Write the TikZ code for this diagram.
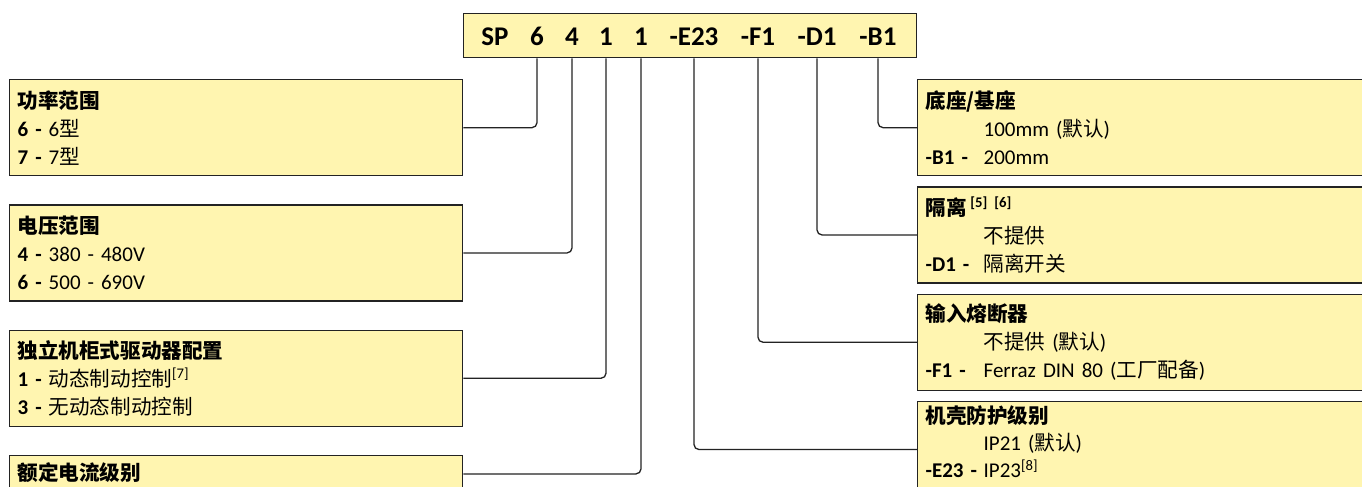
\documentclass[tikz,border=0pt]{standalone}
\usepackage{fontspec}
\setmainfont{Carlito}
\newfontfamily\cjk[Scale=0.98]{Noto Sans CJK SC}
\usetikzlibrary{positioning}
\definecolor{boxfill}{RGB}{255,245,176}
\definecolor{boxline}{RGB}{35,35,35}

\begin{document}
\begin{tikzpicture}[x=1pt,y=-1pt,
	opt/.style={draw=boxline,line width=1.3pt,fill=boxfill,anchor=north west,minimum height=96pt,inner xsep=8pt,inner ysep=0pt,align=left,font=\fontsize{21}{28}\selectfont},
	lopt/.style={opt,minimum width=453pt,text width=437pt},
	ropt/.style={opt,minimum width=460pt,text width=444pt},
	code/.style={font=\fontsize{27}{27}\selectfont\bfseries,inner sep=0pt,anchor=base},
	link/.style={line width=1.3pt,draw=boxline,rounded corners=5pt}]
	\useasboundingbox (0,0) rectangle (1362,487);
	\clip (0,0) rectangle (1362,487);

	\node[draw=boxline,line width=1.3pt,fill=boxfill,minimum width=453pt,minimum height=44pt,anchor=north west,inner sep=0pt] (top) at (463,13) {};
	\node[code] (sp)  at (495,46) {SP};
	\node[code] (c6)  at (537,46) {6};
	\node[code] (c4)  at (572,46) {4};
	\node[code] (c1a) at (606,46) {1};
	\node[code] (c1b) at (641,46) {1};
	\node[code] (cE)  at (694,46) {-E23};
	\node[code] (cF)  at (758,46) {-F1};
	\node[code] (cD)  at (817,46) {-D1};
	\node[code] (cB)  at (878,46) {-B1};

	% left side
	\node[lopt] (pwr) at (9,79) {{\bfseries\cjk 功率范围}\\ \textbf{6 -} 6{\cjk 型}\\ \textbf{7 -} 7{\cjk 型}};
	\node[lopt] (vlt) [below = 28pt of pwr] {{\bfseries\cjk 电压范围}\\ \textbf{4 -} 380 - 480V\\ \textbf{6 -} 500 - 690V};
	\node[lopt] (cfg) [below = 28pt of vlt] {{\bfseries\cjk 独立机柜式驱动器配置}\\ \textbf{1 -} {\cjk 动态制动控制}\textsuperscript{[7]}\\ \textbf{3 -} {\cjk 无动态制动控制}};
	\node[lopt] (cur) [below = 28pt of cfg] {{\bfseries\cjk 额定电流级别}\\ \strut\\ \strut};

	% right side
	\node[ropt] (base) at (917,79) {{\bfseries\cjk 底座/基座}\\ \makebox[58pt][l]{}100mm ({\cjk 默认})\\ \makebox[58pt][l]{\bfseries -B1 -}200mm};
	\node[ropt] (iso) [below = 10pt of base] {{\bfseries\cjk 隔离}\,\textsuperscript{\bfseries [5] [6]}\\ \makebox[58pt][l]{}{\cjk 不提供}\\ \makebox[58pt][l]{\bfseries -D1 -}{\cjk 隔离开关}};
	\node[ropt] (fuse) [below = 10pt of iso] {{\bfseries\cjk 输入熔断器}\\ \makebox[58pt][l]{}{\cjk 不提供} ({\cjk 默认})\\ \makebox[58pt][l]{\bfseries -F1 -}Ferraz DIN 80 ({\cjk 工厂配备})};
	\node[ropt,font=\fontsize{21}{27}\selectfont] (encl) [below = 10pt of fuse] {{\bfseries\cjk 机壳防护级别}\\ \makebox[58pt][l]{}IP21 ({\cjk 默认})\\ \makebox[58pt][l]{\bfseries -E23 -}IP23\textsuperscript{[8]}\rule[-15pt]{0pt}{0pt}};

	\draw[link] (pwr.east) -| (c6 |- top.south);
	\draw[link] (vlt.east) -| (c4 |- top.south);
	\draw[link] (cfg.east) -| (c1a |- top.south);
	\draw[link] ([yshift=-19pt]cur.north east) -| (c1b |- top.south);
	\draw[link] (base.west) -| (cB |- top.south);
	\draw[link] (iso.west) -| (cD |- top.south);
	\draw[link] (fuse.west) -| (cF |- top.south);
	\draw[link] (encl.west) -| (cE |- top.south);
\end{tikzpicture}
\end{document}
